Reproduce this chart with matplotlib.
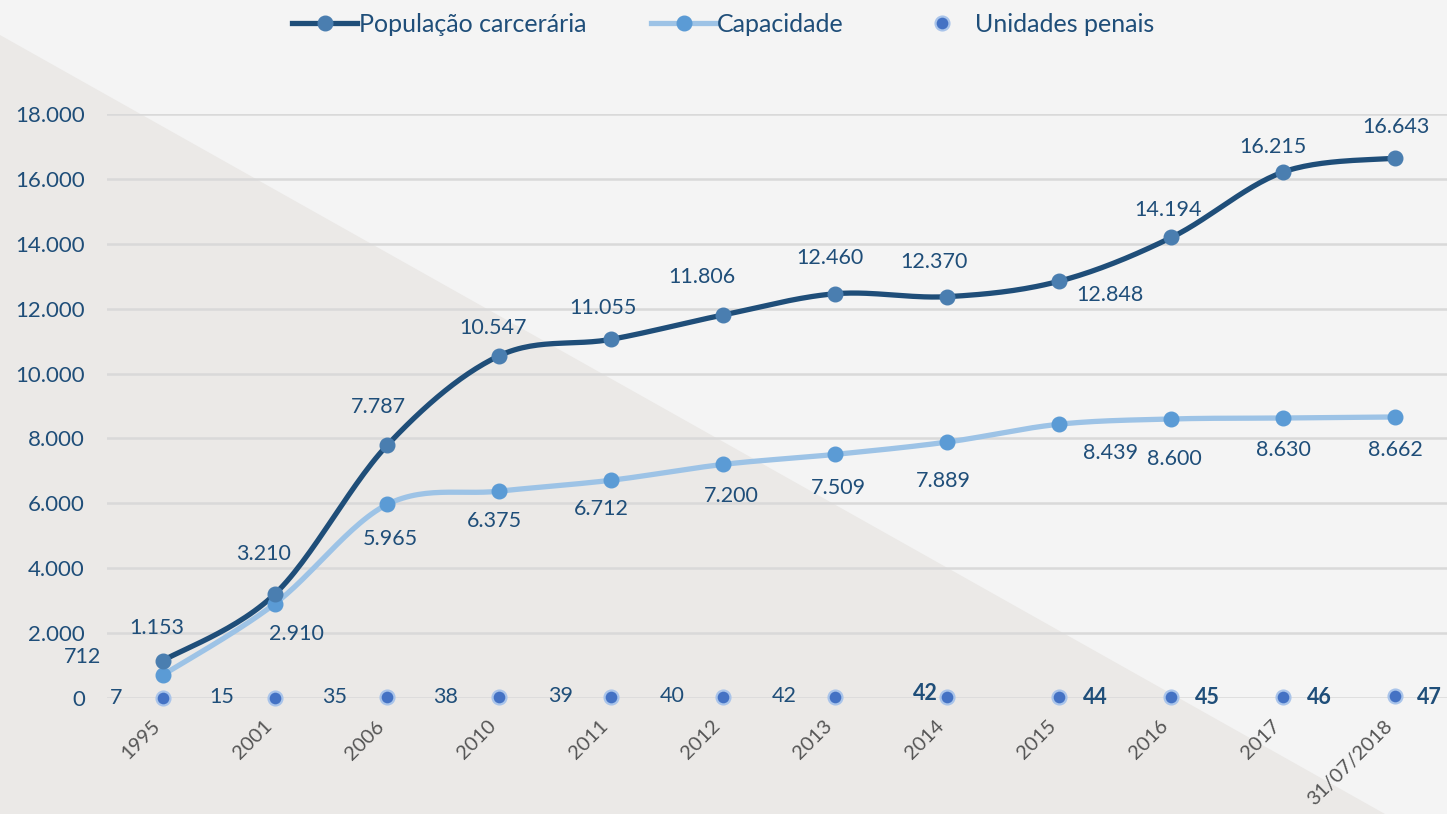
import numpy as np
import matplotlib.pyplot as plt
import matplotlib.transforms as mtransforms
from matplotlib.patches import Polygon

plt.rcParams['font.family'] = ['Lato', 'DejaVu Sans']

# data
anos = ['1995', '2001', '2006', '2010', '2011', '2012', '2013', '2014',
        '2015', '2016', '2017', '31/07/2018']
populacao = [1153, 3210, 7787, 10547, 11055, 11806, 12460, 12370,
             12848, 14194, 16215, 16643]
capacidade = [712, 2910, 5965, 6375, 6712, 7200, 7509, 7889,
              8439, 8600, 8630, 8662]
unidades = [7, 15, 35, 38, 39, 40, 42, 42, 44, 45, 46, 47]

# label offsets in pixels (dx, dy)
off_pop = [(-6, 33), (-12, 40), (-9, 38), (-6, 28), (-8, 31), (-21, 38),
           (-5, 36), (-13, 35), (51, -14), (-3, 27), (-10, 25), (1, 31)]
off_cap = [(-81, 18), (21, -30), (3, -35), (-5, -30), (-10, -29), (8, -32),
           (3, -34), (-4, -39), (51, -29), (3, -40), (0, -32), (0, -33)]
off_uni = [(-47, 0), (-53, 1), (-52, 0), (-54, 0), (-51, 1), (-51, 1),
           (-51, 1), (-22, 3), (36, -1), (36, -1), (36, -1), (34, -1)]

navy = '#1f4e79'
pop_mk = '#4a7eb0'
cap_line = '#9dc3e6'
cap_mk = '#5b9bd5'
uni_mk = '#4472c4'


def fmt(v):
    return f'{v:,}'.replace(',', '.')


def smooth(xs, ys, n=30):
    # catmull-rom, like excel's smoothed lines
    x = np.asarray(xs, float)
    y = np.asarray(ys, float)
    px = np.concatenate([[x[0]], x, [x[-1]]])
    py = np.concatenate([[y[0]], y, [y[-1]]])
    ox, oy = [], []
    t = np.linspace(0, 1, n)
    for i in range(1, len(px) - 2):
        for p, out in ((px, ox), (py, oy)):
            p0, p1, p2, p3 = p[i - 1], p[i], p[i + 1], p[i + 2]
            c1 = p1 + (p2 - p0) / 6
            c2 = p2 - (p3 - p1) / 6
            out.extend((1 - t) ** 3 * p1 + 3 * (1 - t) ** 2 * t * c1
                       + 3 * (1 - t) * t ** 2 * c2 + t ** 3 * p2)
    return np.array(ox), np.array(oy)


fig = plt.figure(figsize=(14.47, 8.14), dpi=100)
fig.patch.set_facecolor('#f4f4f4')

# background triangle
bg = fig.add_axes([0, 0, 1, 1], zorder=-1)
bg.set_xlim(0, 1)
bg.set_ylim(0, 1)
bg.axis('off')
bg.add_patch(Polygon([(0, 1 - 35 / 814), (1385 / 1447, 0), (0, 0)],
                     closed=True, facecolor='#ebe9e7', edgecolor='none'))

ax = fig.add_axes([107 / 1447, 1 - 698 / 814, 1 - 107 / 1447, (698 - 114) / 814])
ax.patch.set_alpha(0)

x = np.arange(len(anos))

sx, sy = smooth(x, populacao)
ax.plot(sx, sy, color=navy, lw=3.8, solid_capstyle='round', zorder=3)
ax.plot(x, populacao, 'o', color=pop_mk, ms=10.5, zorder=4, clip_on=False)

sx, sy = smooth(x, capacidade)
ax.plot(sx, sy, color=cap_line, lw=3.8, solid_capstyle='round', zorder=2)
ax.plot(x, capacidade, 'o', color=cap_mk, ms=10.5, zorder=3, clip_on=False)

ax.plot(x, unidades, 'o', color=uni_mk, ms=10, mec='#a9c4ea', mew=1.6,
        zorder=4, clip_on=False)

for i in range(len(anos)):
    ax.annotate(fmt(populacao[i]), (x[i], populacao[i]), xytext=off_pop[i],
                textcoords='offset pixels', ha='center', va='center',
                fontsize=15.5, color=navy)
    ax.annotate(fmt(capacidade[i]), (x[i], capacidade[i]), xytext=off_cap[i],
                textcoords='offset pixels', ha='center', va='center',
                fontsize=15.5, color=navy)
    ax.annotate(str(unidades[i]), (x[i], unidades[i]), xytext=off_uni[i],
                textcoords='offset pixels', ha='center', va='center',
                fontsize=15.5, color=navy, fontweight='bold' if i >= 7 else 'normal')

ax.set_xlim(-0.5, 11.46)
ax.set_ylim(0, 18000)
ax.set_yticks(np.arange(0, 18001, 2000))
ax.set_yticklabels([fmt(v) for v in range(0, 18001, 2000)], fontsize=16, color=navy)
ax.set_xticks(x)
ax.set_xticklabels(anos, rotation=45, ha='right', va='top', fontsize=14.5, color='#555555')
shift = mtransforms.ScaledTranslation(-25 / 100, 0, fig.dpi_scale_trans)
for lab in ax.get_xticklabels():
    lab.set_transform(lab.get_transform() + shift)
ax.tick_params(axis='both', length=0)
ax.tick_params(axis='x', pad=14)
ax.tick_params(axis='y', pad=16)
ax.grid(axis='y', color='#d9d9d9', lw=1.8)
ax.set_axisbelow(True)
for s in ax.spines.values():
    s.set_visible(False)

h1, = ax.plot([], [], color=navy, lw=3.8, marker='o', mfc=pop_mk, mec=pop_mk, ms=10.5)
h2, = ax.plot([], [], color=cap_line, lw=3.8, marker='o', mfc=cap_mk, mec=cap_mk, ms=10.5)
h3, = ax.plot([], [], ls='none', marker='o', mfc=uni_mk, mec='#a9c4ea', mew=1.6, ms=10)
fig.legend([h1, h2, h3], ['População carcerária', 'Capacidade', 'Unidades penais'],
           loc='center', bbox_to_anchor=(0.5, 1 - 24 / 814), ncol=3, frameon=False,
           fontsize=18, labelcolor=navy, handlelength=2.6, handletextpad=0.05,
           columnspacing=2.6)

fig.savefig('out.png', dpi=100, facecolor=fig.get_facecolor())
